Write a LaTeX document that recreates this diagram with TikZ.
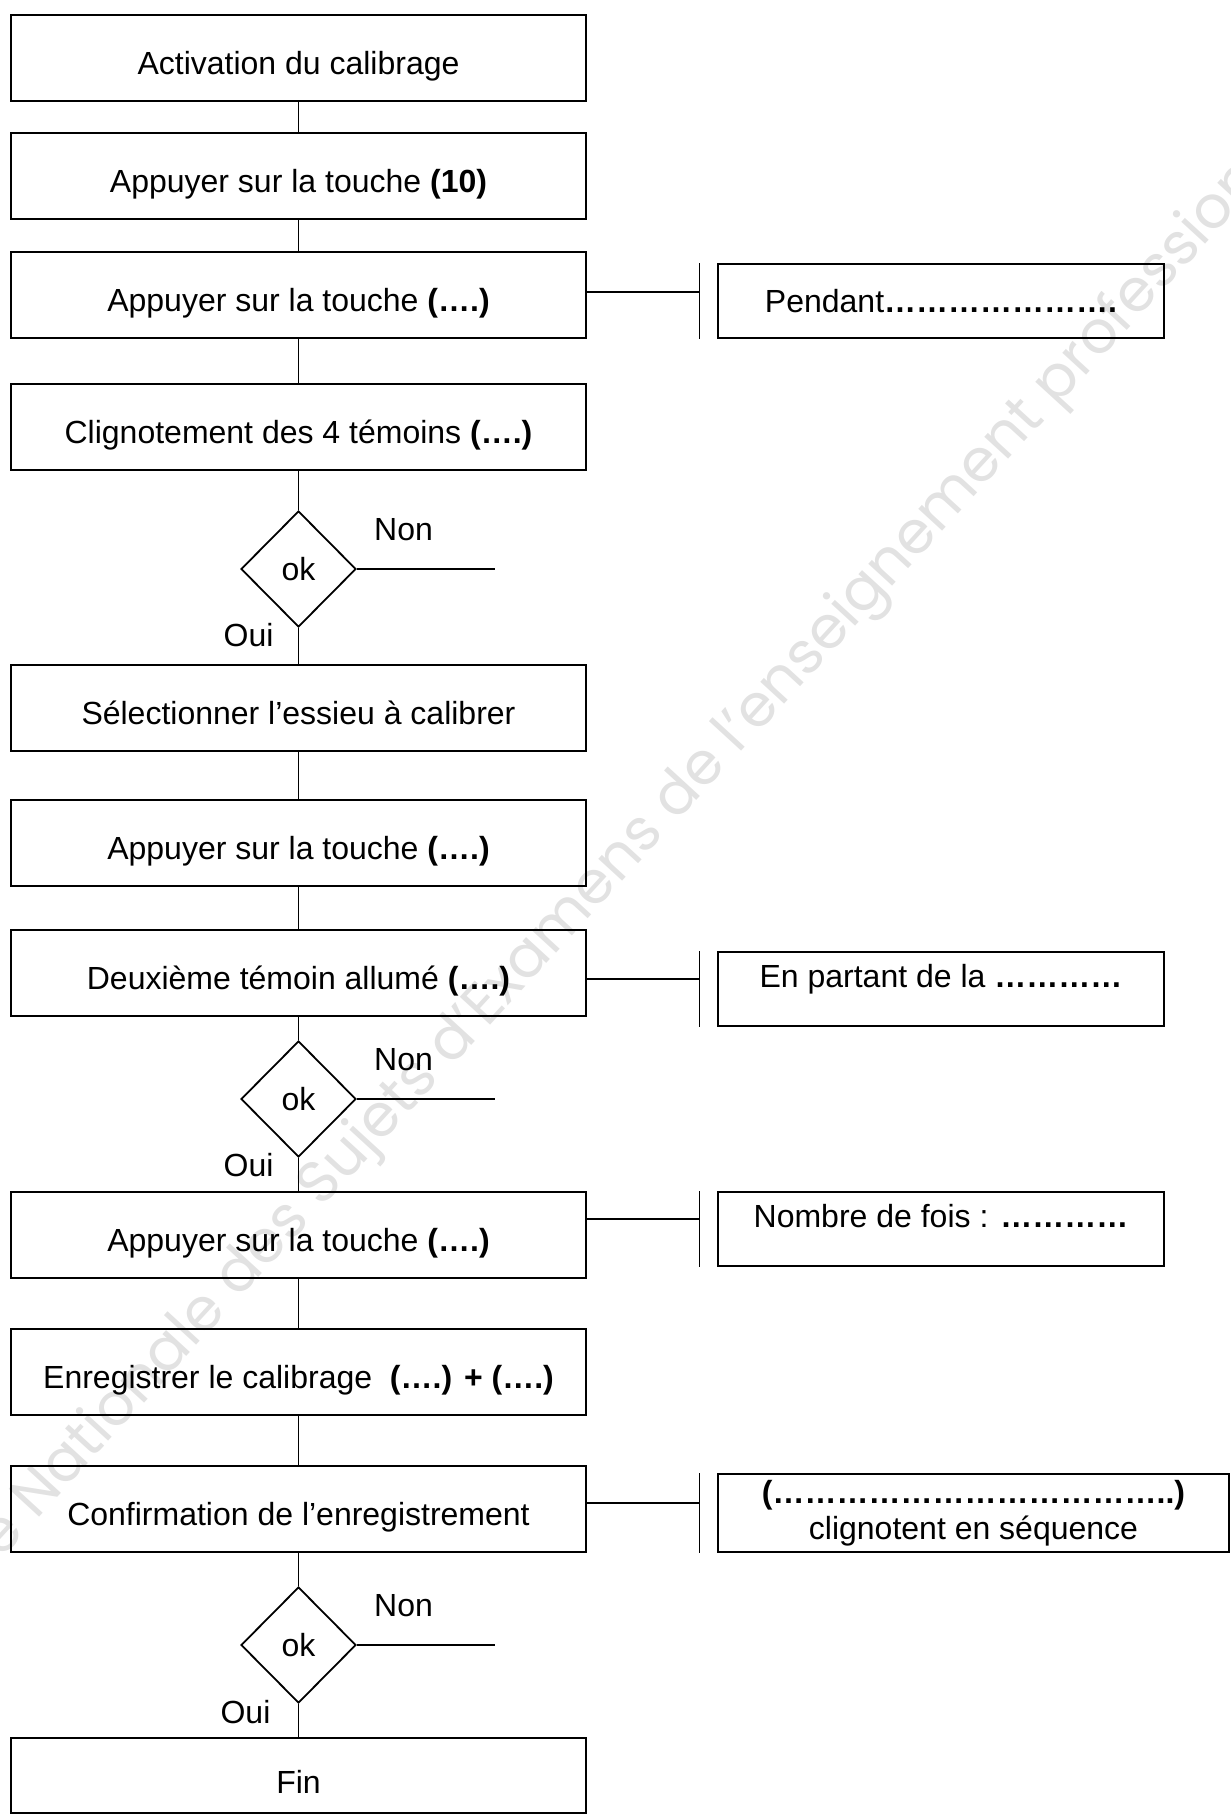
\documentclass[tikz,border=0pt]{standalone}
\usepackage{fontspec}
\setmainfont{Liberation Sans}
\newfontfamily\wmfont{Poppins}
\usetikzlibrary{positioning}
\usetikzlibrary{calc}
\usetikzlibrary{shapes.geometric}
\definecolor{wgray}{RGB}{226,226,226}

\begin{document}
\begin{tikzpicture}[x=0.5pt, y=-0.5pt,
    block/.style={draw, line width=0.9pt, minimum width=287.5pt, minimum height=43pt, inner sep=0pt, text height=16pt, text depth=0pt, font=\fontsize{16}{19}\selectfont},
    test/.style={draw, diamond, aspect=1, line width=0.9pt, minimum width=57.5pt, minimum height=58pt, inner sep=0pt, font=\fontsize{16}{19}\selectfont},
    note/.style={draw, line width=0.9pt, minimum width=223pt, minimum height=37pt, inner sep=0pt, align=center, font=\fontsize{16}{18}\selectfont},
    topnote/.style={note, text height=12pt, text depth=13.8pt},
    lbl/.style={inner sep=0pt, font=\fontsize{16}{19}\selectfont},
    link/.style={line width=0.9pt},
]
    \useasboundingbox (0,0) rectangle (1231,1816);

    \node[wgray, rotate=47.5, font=\wmfont\fontsize{29.5}{29.5}\selectfont] (wm) at (587,898) {Banque Nationale des Sujets d’Examens de l’enseignement professionnel};

    \node[block] (b1) at (298.5,58) {Activation du calibrage};
    \node[block] (b2) at (298.5,176) {Appuyer sur la touche \textbf{(10)}};
    \node[block] (b3) at (298.5,295) {Appuyer sur la touche \textbf{(….)}};
    \node[block] (b4) at (298.5,427) {Clignotement des 4 témoins \textbf{(….)}};
    \node[test] (d1) at (298.5,569) {ok};
    \node[block] (b5) at (298.5,708) {Sélectionner l’essieu à calibrer};
    \node[block] (b6) at (298.5,843) {Appuyer sur la touche \textbf{(….)}};
    \node[block] (b7) at (298.5,973) {Deuxième témoin allumé \textbf{(….)}};
    \node[test] (d2) at (298.5,1099) {ok};
    \node[block] (b8) at (298.5,1235) {Appuyer sur la touche \textbf{(….)}};
    \node[block] (b9) at (298.5,1372) {Enregistrer le calibrage \ \textbf{(….) + (….)}};
    \node[block] (b10) at (298.5,1509) {Confirmation de l’enregistrement};
    \node[test] (d3) at (298.5,1645) {ok};
    \node[block, minimum height=37.5pt, text height=18pt] (b11) at (298.5,1775.5) {Fin};

    \node[note] (s1) at (941,301) {Pendant\textbf{………………….}};
    \node[topnote] (s2) at (941,989) {En partant de la \textbf{…………}};
    \node[topnote] (s3) at (941,1229) {Nombre de fois : \textbf{…………}};
    \node[note, minimum width=255.5pt, minimum height=39pt] (s4) at (973.5,1513) {\textbf{(………………………………..)}\\clignotent en séquence};

    \draw[link] (b1) -- (b2);
    \draw[link] (b2) -- (b3);
    \draw[link] (b3) -- (b4);
    \draw[link] (b4) -- (d1);
    \draw[link] (d1) -- (b5);
    \draw[link] (b5) -- (b6);
    \draw[link] (b6) -- (b7);
    \draw[link] (b7) -- (d2);
    \draw[link] (d2) -- (b8);
    \draw[link] (b8) -- (b9);
    \draw[link] (b9) -- (b10);
    \draw[link] (b10) -- (d3);
    \draw[link] (d3) -- (b11);

    \coordinate (n1) at (495,569);
    \coordinate (n2) at (495,1099);
    \coordinate (n3) at (495,1645);
    \draw[link] (d1.east) -- (n1);
    \draw[link] (d2.east) -- (n2);
    \draw[link] (d3.east) -- (n3);

    \node[lbl] (non1) at ($(d1)+(105,-39)$) {Non};
    \node[lbl] (oui1) at ($(d1)+(-50,66)$) {Oui};
    \node[lbl] (non2) at ($(d2)+(105,-39)$) {Non};
    \node[lbl] (oui2) at ($(d2)+(-50,66)$) {Oui};
    \node[lbl] (non3) at ($(d3)+(105,-39)$) {Non};
    \node[lbl] (oui3) at ($(d3)+(-53,67)$) {Oui};

    \coordinate (k1) at (699.5,292);
    \coordinate (k2) at (699.5,979);
    \coordinate (k3) at (699.5,1219);
    \coordinate (k4) at (699.5,1503);
    \draw[link] (k1 |- s1.north) -- (k1 |- s1.south);
    \draw[link] (k2 |- s2.north) -- (k2 |- s2.south);
    \draw[link] (k3 |- s3.north) -- (k3 |- s3.south);
    \draw[link] (k4 |- s4.north) -- (k4 |- s4.south);
    \draw[link] (b3.east |- k1) -- (k1);
    \draw[link] (b7.east |- k2) -- (k2);
    \draw[link] (b8.east |- k3) -- (k3);
    \draw[link] (b10.east |- k4) -- (k4);

\end{tikzpicture}
\end{document}
